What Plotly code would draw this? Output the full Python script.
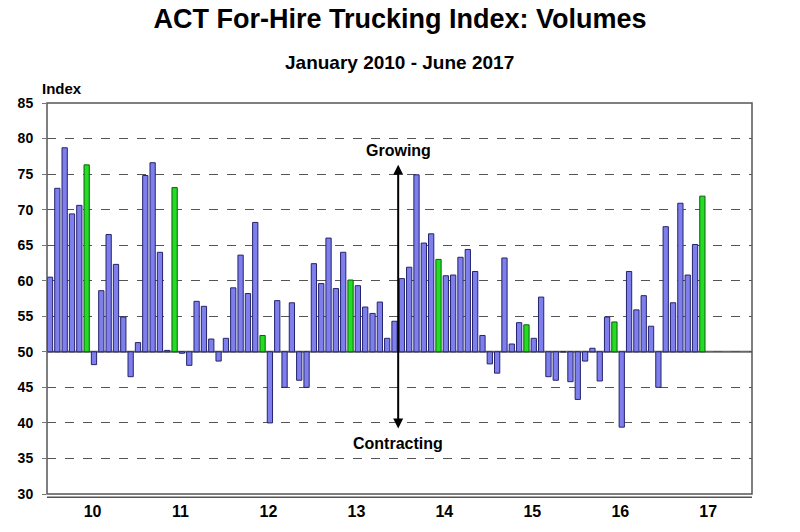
import plotly.graph_objects as go

# Monthly index values, Jan 2010 - Jun 2017
values = [
    60.5, 73.0, 78.7, 69.4, 70.6, 76.3, 48.2, 58.6, 66.5, 62.3, 54.9, 46.5,   # 2010
    51.3, 74.8, 76.6, 64.0, 50.2, 73.1, 49.8, 48.1, 57.1, 56.4, 51.8, 48.7,   # 2011
    51.9, 59.0, 63.6, 58.2, 68.2, 52.3, 40.0, 57.2, 45.0, 56.9, 46.0, 45.0,   # 2012
    62.4, 59.6, 66.0, 58.9, 64.0, 60.1, 59.3, 56.3, 55.4, 57.0, 51.9, 54.3,   # 2013
    60.3, 61.9, 74.9, 65.3, 66.6, 63.0, 60.7, 60.8, 63.3, 64.4, 61.3, 52.3,   # 2014
    48.3, 47.0, 63.2, 51.1, 54.1, 53.8, 51.9, 57.7, 46.5, 46.0, 50.0, 45.8,   # 2015
    43.3, 48.7, 50.5, 45.9, 54.9, 54.2, 39.4, 61.3, 55.9, 57.9, 53.6, 45.0,   # 2016
    67.6, 56.9, 70.9, 60.8, 65.1, 71.9,                                       # 2017
]
highlight_month = 6
year_labels = ["10", "11", "12", "13", "14", "15", "16", "17"]
y_ticks = [30, 35, 40, 45, 50, 55, 60, 65, 70, 75, 80, 85]
baseline = 50

idx = list(range(1, len(values) + 1))
colors = ["#22DD22" if (i - 1) % 12 == highlight_month - 1 else "#7E7EEC" for i in idx]
lines = ["#0E5E0E" if (i - 1) % 12 == highlight_month - 1 else "#24246E" for i in idx]
june_idx = [i for i in idx if (i - 1) % 12 == highlight_month - 1]
tickvals = [i + 0.8 for i in june_idx]

fig = go.Figure()
fig.add_trace(go.Bar(
    x=idx,
    y=[v - baseline for v in values],
    base=baseline,
    width=0.72,
    marker=dict(color=colors, line=dict(color=lines, width=1)),
    hoverinfo="skip",
))

FONT = "Liberation Sans, Arial, sans-serif"

fig.update_layout(
    width=800, height=532,
    margin=dict(l=47, r=48, t=103, b=30),
    paper_bgcolor="white",
    plot_bgcolor="white",
    showlegend=False,
    font=dict(family=FONT, color="black"),
    title=dict(text="<b>ACT For-Hire Trucking Index: Volumes</b>", x=0.5, xanchor="center",
               y=1 - 19 / 532, yanchor="middle", font=dict(size=27, family=FONT)),
    xaxis=dict(
        range=[0.59, 96.77],
        tickmode="array", tickvals=tickvals, ticktext=[f"<b>{t}</b>" for t in year_labels],
        tickfont=dict(size=16), showgrid=False, zeroline=False, showline=False,
        ticks="", ticklabelstandoff=6,
    ),
    yaxis=dict(
        range=[30, 85], tickmode="array", tickvals=y_ticks,
        ticktext=[f"<b>{t}</b>" for t in y_ticks], tickfont=dict(size=14),
        showgrid=True, gridcolor="#555555", griddash="dash", gridwidth=1.3,
        zeroline=False, showline=False, ticks="outside", ticklen=4, tickcolor="#777777",
        ticklabelstandoff=6,
    ),
    bargap=0.2,
)

# baseline at 50 and plot frame
fig.add_shape(type="line", xref="paper", yref="y", x0=0, x1=1, y0=baseline, y1=baseline,
              line=dict(color="#666666", width=2), layer="below")
fig.add_shape(type="rect", xref="paper", yref="paper", x0=0, x1=1, y0=0, y1=1,
              line=dict(color="#555555", width=1.5), layer="above")
fig.add_shape(type="line", xref="paper", yref="paper", x0=0, x1=1, y0=-0.008, y1=-0.008,
              line=dict(color="#555555", width=1.5), layer="above")

# subtitle and axis title
fig.add_annotation(text="<b>January 2010 - June 2017</b>", xref="paper", yref="paper",
                   x=0.5, y=1 + (103 - 62) / 399, xanchor="center", yanchor="middle",
                   showarrow=False, font=dict(size=19))
fig.add_annotation(text="<b>Index</b>", xref="paper", yref="paper",
                   x=-7 / 705, y=1 + (103 - 88) / 399, xanchor="left", yanchor="middle",
                   showarrow=False, font=dict(size=15))

# Growing / Contracting arrow
arrow_x = 48.5
fig.add_annotation(x=arrow_x, y=76.3, ax=arrow_x, ay=39.0, xref="x", yref="y", axref="x", ayref="y",
                   text="", showarrow=True, arrowhead=2, arrowsize=1, arrowwidth=2,
                   arrowcolor="black", arrowside="end+start")
fig.add_annotation(x=arrow_x, y=78.3, xref="x", yref="y", text="<b>Growing</b>",
                   showarrow=False, font=dict(size=16))
fig.add_annotation(x=arrow_x, y=37.1, xref="x", yref="y", text="<b>Contracting</b>",
                   showarrow=False, font=dict(size=16))

fig.write_html("out.html")
